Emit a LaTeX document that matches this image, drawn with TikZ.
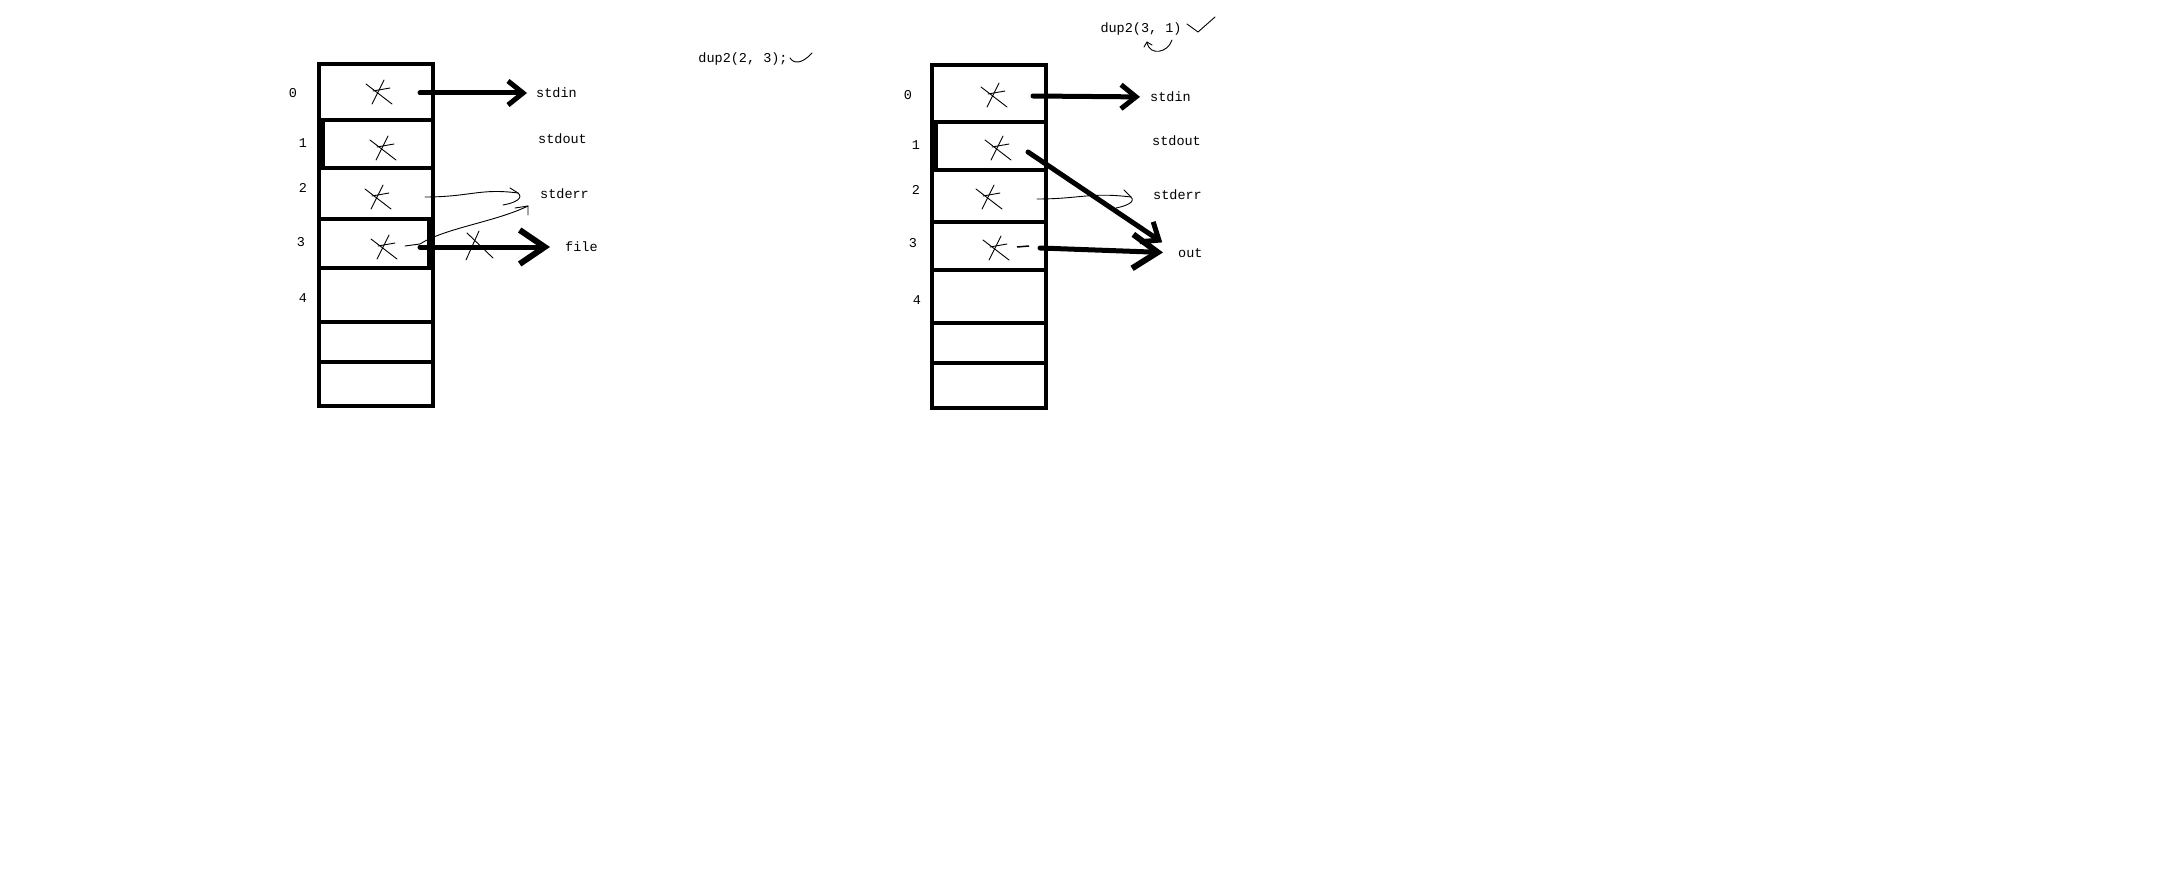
\documentclass[tikz,border=0pt]{standalone}
\usepackage{fontspec}
\setmonofont{Liberation Mono}
\usetikzlibrary{arrows.meta, calc}
\tikzset{
	fdcell/.style={draw, line width=4.5pt, minimum width=114pt, inner sep=0pt},
	fdtext/.style={font=\ttfamily\fontsize{13.5}{15}\selectfont, inner sep=0pt},
	fdarrow/.style={line width=5pt, line cap=round, -{Straight Barb[length=15pt, width=24pt, line width=5pt]}},
	fdbigarrow/.style={line width=5pt, line cap=round, -{Straight Barb[length=25pt, width=34pt, line width=6pt]}},
	scribble/.style={line width=0.9pt, line cap=round},
	fdmark/.pic={
		\draw[scribble] (-12,-8) -- (14,12);
		\draw[scribble] (-6,12) -- (6,-12);
		\draw[scribble] (-5,-1) -- (12,-4);
	},
}

\begin{document}
\begin{tikzpicture}[x=1pt, y=-1pt]
			\useasboundingbox (0,0) rectangle (2184,880);
			% before: dup2(2, 3)
			\foreach \n/\c/\h in {0/92/56, 1/144/48, 2/193.5/51, 3/243.5/49, 4/295/54, 5/342/40, 6/384/44}
				\node[fdcell, minimum height=\h pt] (L\n) at (376,\c) {};
			\foreach \n/\x/\y in {0/293/93, 1/303/143, 2/303/188, 3/301/242, 4/303/298}
				\node[fdtext] (lnum\n) at (\x,\y) {\n};
			\draw[line width=4pt] (323,122) -- (323,166);
			\draw[line width=4pt] (429,221) -- (429,266);
			\pic at (378,92) {fdmark};
			\pic at (382,148) {fdmark};
			\pic at (377,197) {fdmark};
			\pic at (383,247) {fdmark};
			\node[fdtext, anchor=west] (lstdin) at (536,93) {stdin};
			\node[fdtext, anchor=west] (lstdout) at (538,139) {stdout};
			\node[fdtext, anchor=west] (lstderr) at (540,194) {stderr};
			\node[fdtext, anchor=west] (lfile) at (565,247) {file};
			\coordinate (l0s) at (420,93);
			\coordinate (l3s) at (420,247);
			\draw[fdarrow, shorten >=9pt] (l0s) -- (lstdin.west);
			\draw[fdbigarrow, shorten >=15pt] (l3s) -- (lfile.west);
			\draw[scribble] (467,233) -- (493,258);
			\draw[scribble] (479,231) -- (466,260);
			\draw[scribble] (425,197) .. controls (470,197) and (480,188) .. (518,193) .. controls (524,198) and (515,203) .. (503,205);
			\draw[scribble] (510,188) -- (518,193);
			\draw[scribble] (405,246) -- (420,244) .. controls (445,228) and (495,222) .. (528,206);
			\draw[scribble] (515,208) -- (528,206) -- (528,215);
			\node[fdtext] (dupa) at (743,59) {dup2(2, 3);};
			\draw[scribble] (790,58) .. controls (794,64) and (802,64) .. (812,53);
			% after: dup2(3, 1)
			\foreach \n/\c/\h in {0/93.5/57, 1/146/48, 2/196/52, 3/246/48, 4/296.5/53, 5/343/40, 6/385.5/45}
				\node[fdcell, minimum height=\h pt] (R\n) at (989,\c) {};
			\foreach \n/\x/\y in {0/908/95, 1/916/145, 2/916/190, 3/913/243, 4/917/300}
				\node[fdtext] (rnum\n) at (\x,\y) {\n};
			\draw[line width=4pt] (936,124) -- (936,168);
			\pic at (993,95) {fdmark};
			\pic at (997,148) {fdmark};
			\pic at (988,197) {fdmark};
			\pic at (995,248) {fdmark};
			\node[fdtext, anchor=west] (rstdin) at (1150,97) {stdin};
			\node[fdtext, anchor=west] (rstdout) at (1152,141) {stdout};
			\node[fdtext, anchor=west] (rstderr) at (1153,195) {stderr};
			\node[fdtext, anchor=west] (rout) at (1178,253) {out};
			\coordinate (r0s) at (1033,96);
			\coordinate (r1s) at (1028,152);
			\coordinate (r3s) at (1040,248);
			\draw[fdarrow, shorten >=10pt] (r0s) -- (rstdin.west);
			\draw[fdarrow, shorten >=19pt] (r1s) -- (rout.west);
			\draw[fdbigarrow, shorten >=15pt] (r3s) -- (rout.west);
			\draw[scribble] (1037,199) .. controls (1080,199) and (1090,192) .. (1131,197) .. controls (1136,202) and (1126,206) .. (1116,208);
			\draw[scribble] (1124,190) -- (1131,197);
			\draw[line width=1.5pt] (1017,247) -- (1029,246);
			\node[fdtext] (dupb) at (1141,29) {dup2(3, 1)};
			\draw[scribble] (1187,24) -- (1198,32) -- (1215,17);
			\draw[scribble] (1172,40) .. controls (1168,53) and (1150,56) .. (1147,43);
			\draw[scribble] (1144,47) -- (1147,42) -- (1152,45);
		\end{tikzpicture}
\end{document}
